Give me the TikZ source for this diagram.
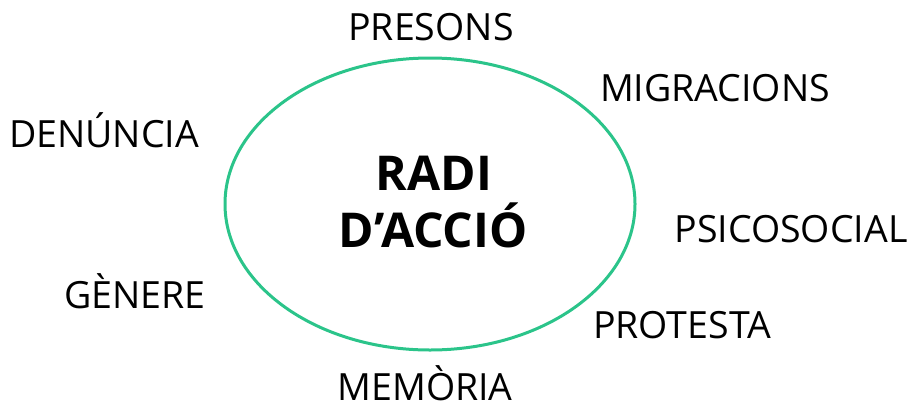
\documentclass[tikz,border=0pt]{standalone}
\usepackage{fontspec}
\setmainfont{Open Sans}
\usepackage{xcolor}
\usetikzlibrary{shapes.geometric}
\definecolor{radigreen}{HTML}{2BC48A}

\begin{document}
\begin{tikzpicture}[x=1pt,y=-1pt,
		tema/.style={anchor=base,inner sep=0pt,font=\fontsize{37.5}{40}\selectfont},
		centre/.style={anchor=base,inner sep=0pt,font=\fontsize{48}{50}\selectfont\bfseries}]
		\useasboundingbox (0,0) rectangle (909,405);
		\node[ellipse,draw=radigreen,line width=3pt,minimum width=410pt,minimum height=292pt] (radi) at (430,204) {};
		\node[centre] (radi1) at (434,190) {RADI};
		\node[centre] (radi2) at (433,247) {D’ACCIÓ};
		\node[tema] (presons) at (431,40) {PRESONS};
		\node[tema] (migracions) at (715,101) {MIGRACIONS};
		\node[tema] (denuncia) at (104,147) {DENÚNCIA};
		\node[tema] (psicosocial) at (791,242) {PSICOSOCIAL};
		\node[tema] (genere) at (135,308) {GÈNERE};
		\node[tema] (protesta) at (682,338) {PROTESTA};
		\node[tema] (memoria) at (425,400) {MEMÒRIA};
	\end{tikzpicture}
\end{document}
